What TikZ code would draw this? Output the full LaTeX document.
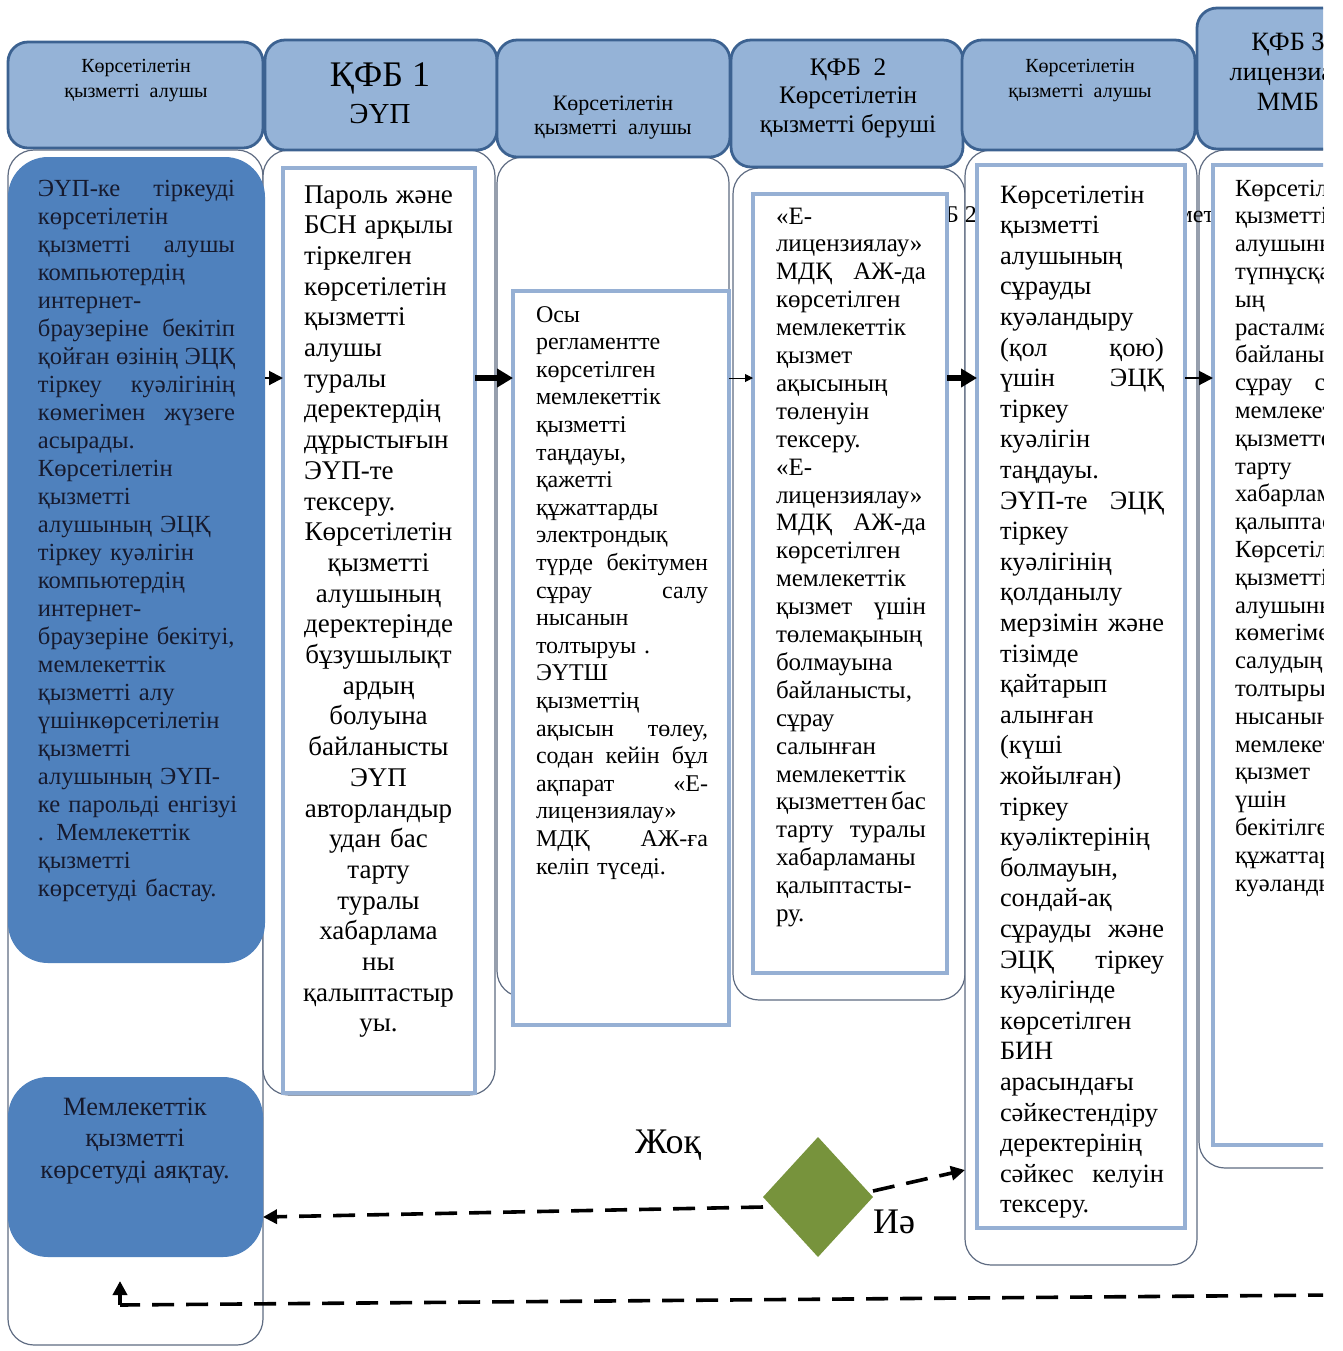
\documentclass[tikz,border=0pt]{standalone}
\usepackage{fontspec}
\setmainfont{Liberation Serif}
\usetikzlibrary{arrows.meta}
\usetikzlibrary{shapes.geometric}
\usetikzlibrary{positioning}
\definecolor{headfill}{RGB}{149,179,215}
\definecolor{headline}{RGB}{60,98,145}
\definecolor{startfill}{RGB}{79,129,189}
\definecolor{laneline}{RGB}{95,108,130}
\definecolor{taskline}{RGB}{150,176,212}
\definecolor{decfill}{RGB}{119,147,60}
\definecolor{darktext}{RGB}{22,26,46}

\newcommand{\jsp}{\hspace{0pt plus 1filll}}
\hyphenpenalty=10000
\exhyphenpenalty=10000

\begin{document}
\begin{tikzpicture}[x=0.5pt, y=-0.5pt, >={Triangle[length=7pt,width=7pt]},
    every node/.style={inner sep=0pt, outer sep=0pt},
    lane/.style={draw=laneline, fill=white, line width=0.6pt, rounded corners=13pt, anchor=north west},
    task/.style={draw=taskline, fill=white, line width=1.8pt, anchor=north west},
    head/.style={draw=headline, fill=headfill, line width=1.4pt, rounded corners=10pt, anchor=north west},
    terminal/.style={fill=startfill, rounded corners=20pt, anchor=north west},
    body/.style={anchor=base west, align=left},
    headtxt/.style={align=center, anchor=center},
    flow/.style={->, line width=1pt},
    bigflow/.style={-{Triangle[length=8pt,width=9pt]}, line width=2.6pt},
    back/.style={->, line width=1.8pt, dash pattern=on 11pt off 6pt}]

  \useasboundingbox (0,0) rectangle (1343,1351);
  \clip (0,0) rectangle (1323,1351);

  % lanes
  \node[lane, minimum width=127.5pt, minimum height=597.5pt] (lane1) at (8,150) {};
  \node[lane, minimum width=116pt, minimum height=472.5pt] (lane2) at (263,150) {};
  \node[lane, minimum width=116pt, minimum height=420pt] (lane3) at (497,157) {};
  \node[lane, minimum width=116pt, minimum height=416pt] (lane4) at (733,168) {};
  \node[lane, minimum width=116pt, minimum height=557.5pt] (lane5) at (965,150) {};
  \node[lane, minimum width=110pt, minimum height=509pt] (lane6) at (1199,150) {};

  % hidden labels behind the boxes
  \node[anchor=base east, font=\fontsize{12}{14}\selectfont] (ghost4) at (977,222) {ҚФБ 2};
  \node[anchor=base east, font=\fontsize{12}{14}\selectfont] (ghost5) at (1214,222) {қызмет};

  % task boxes
  \node[task, minimum width=96pt, minimum height=462.5pt] (t2) at (283,168) {};
  \node[task, minimum width=108pt, minimum height=367pt] (t3) at (513,291) {};
  \node[task, minimum width=97pt, minimum height=389.5pt] (t4) at (753,194) {};
  \node[task, minimum width=104pt, minimum height=531.5pt] (t5) at (977,165) {};
  \node[task, minimum width=90pt, minimum height=490pt] (t6) at (1213,165) {};

  % headers
  \node[head, minimum width=127.5pt, minimum height=53pt] (h1) at (8,42) {};
  \node[head, minimum width=116pt, minimum height=55pt] (h2) at (265,40) {};
  \node[head, minimum width=116.5pt, minimum height=58.5pt] (h3) at (497,40) {};
  \node[head, minimum width=116pt, minimum height=63.5pt] (h4) at (731,40) {};
  \node[head, minimum width=116.5pt, minimum height=55pt] (h5) at (962,40) {};
  \node[head, minimum width=105pt, minimum height=70.5pt] (h6) at (1197,8) {};

  \node[headtxt, font=\fontsize{10}{12.5}\selectfont] (h1txt) at (136,81) {Көрсетілетін\\қызметті~~алушы};
  \node[headtxt, font=\fontsize{18}{20}\selectfont] (h2a) at (380,78) {ҚФБ 1};
  \node[headtxt, font=\fontsize{14.5}{16}\selectfont] (h2b) at (380,114) {ЭҮП};
  \node[headtxt, font=\fontsize{11}{12}\selectfont] (h3txt) at (613,118) {Көрсетілетін\\қызметті~~алушы};
  \node[headtxt, font=\fontsize{12.6}{14.2}\selectfont] (h4txt) at (848,98) {ҚФБ~~2\\Көрсетілетін\\қызметті беруші};
  \node[headtxt, font=\fontsize{10}{12.5}\selectfont] (h5txt) at (1080,81) {Көрсетілетін\\қызметті~~алушы};
  \node[headtxt, font=\fontsize{13.2}{15}\selectfont] (h6txt) at (1288,72) {ҚФБ 3\\лицензиар\\ММБ};

  % start and end
  \node[terminal, minimum width=128.5pt, minimum height=403pt] (start) at (8,157) {};
  \node[terminal, minimum width=127.5pt, minimum height=90pt] (stop) at (8,1077) {};

  \node[body, text width=98.5pt, text=darktext, font=\fontsize{12.3}{14}\selectfont] (starttxt) at (38,196) {%
ЭҮП-ке\jsp тіркеуді\\
көрсетілетін\\
қызметті\jsp алушы\\
компьютердің\\
интернет-\\
браузеріне\jsp бекітіп\\
қойған\jsp өзінің\jsp ЭЦҚ\\
тіркеу\jsp куәлігінің\\
көмегімен\jsp жүзеге\\
асырады.\\
Көрсетілетін\\
қызметті\\
алушының ЭЦҚ\\
тіркеу куәлігін\\
компьютердің\\
интернет-\\
браузеріне бекітуі,\\
мемлекеттік\\
қызметті алу\\
үшінкөрсетілетін\\
қызметті\\
алушының ЭҮП-\\
\mbox{ке парольді енгізуі}\\
. Мемлекеттік\\
қызметті\\
көрсетуді бастау.};

  \node[headtxt, text=darktext, font=\fontsize{13.2}{15.75}\selectfont] (stoptxt) at (135,1141) {Мемлекеттік\\қызметті\\көрсетуді аяқтау.};

  % column texts
  \node[body, text width=74.5pt, font=\fontsize{13.5}{15.35}\selectfont] (t2txt) at (304,203) {%
Пароль\jsp және\\
БСН\jsp арқылы\\
тіркелген\\
көрсетілетін\\
қызметті\\
алушы\\
туралы\\
деректердің\\
дұрыстығын\\
ЭҮП-те\\
тексеру.};
  \node[anchor=base, align=center, text width=80pt, font=\fontsize{13.5}{15.35}\selectfont] (t2txtb) at (378.5,540.7) {%
Көрсетілетін\\
қызметті\\
алушының\\
деректерінде\\
бұзушылықт\\
ардың\\
болуына\\
байланысты\\
ЭҮП\\
авторландыр\\
удан бас\\
тарту\\
туралы\\
хабарлама\\
ны\\
қалыптастыр\\
уы.};

  \node[body, text width=86pt, font=\fontsize{12}{13.8}\selectfont] (t3txt) at (536,322) {%
Осы\\
регламентте\\
көрсетілген\\
мемлекеттік\\
қызметті\\
таңдауы,\\
қажетті\\
құжаттарды\\
электрондық\\
түрде\jsp бекітумен\\
сұрау\jsp салу\\
нысанын\\
толтыруы .\\
ЭҮТШ\\
қызметтің\\
ақысын\jsp төлеу,\\
содан\jsp кейін\jsp бұл\\
ақпарат\jsp «Е-\\
лицензиялау»\\
МДҚ\jsp АЖ-ға\\
келіп түседі.};

  \node[body, text width=75pt, font=\fontsize{12.5}{13.95}\selectfont] (t4txt) at (776,224) {%
«Е-\\
лицензиялау»\\
МДҚ\jsp АЖ-да\\
көрсетілген\\
мемлекеттік\\
қызмет\\
ақысының\\
төленуін\\
тексеру.\\
«Е-\\
лицензиялау»\\
МДҚ\jsp АЖ-да\\
көрсетілген\\
мемлекеттік\\
қызмет\jsp үшін\\
төлемақының\\
болмауына\\
байланысты,\\
сұрау\\
салынған\\
мемлекеттік\\
қызметтен\jsp бас\\
тарту\jsp туралы\\
хабарламаны\\
қалыптасты-\\
ру.};

  \node[body, text width=82pt, font=\fontsize{13.2}{15.3}\selectfont] (t5txt) at (1000,203) {%
Көрсетілетін\\
қызметті\\
алушының\\
сұрауды\\
куәландыру\\
(қол\jsp қою)\\
үшін\jsp ЭЦҚ\\
тіркеу\\
куәлігін\\
таңдауы.\\
ЭҮП-те\jsp ЭЦҚ\\
тіркеу\\
куәлігінің\\
қолданылу\\
мерзімін\jsp және\\
тізімде\\
қайтарып\\
алынған\\
(күші\\
жойылған)\\
тіркеу\\
куәліктерінің\\
болмауын,\\
сондай-ақ\\
сұрауды\jsp және\\
ЭЦҚ\jsp тіркеу\\
куәлігінде\\
көрсетілген\\
БИН\\
арасындағы\\
сәйкестендіру\\
деректерінің\\
сәйкес\jsp келуін\\
тексеру.};

  \node[body, text width=89pt, font=\fontsize{12.3}{13.9}\selectfont] (t6txt) at (1235,196) {%
Көрсетілетін\\
қызметті\\
алушының\\
түпнұсқасын\\
ың\\
расталмауына\\
байланысты\\
сұрау\jsp салынған\\
мемлекеттік\\
қызметтен\jsp бас\\
тарту\jsp туралы\\
хабарламаны\\
қалыптастыру.\\
Көрсетілетін\\
қызметті\\
алушының\\
көмегімен\\
салудың\\
толтырылған\\
нысанын\\
мемлекеттік\\
қызмет\\
үшін\\
бекітілген\\
құжаттарды\\
куәландыру};

  % decision
  \node[diamond, fill=decfill, minimum width=55pt, minimum height=60pt] (dec) at (818,1197) {};
  \node[font=\fontsize{18}{20}\selectfont] (no) at (668,1145) {Жоқ};
  \node[font=\fontsize{18}{20}\selectfont] (yes) at (894,1222) {Иә};

  % arrows
  \coordinate (ay) at (0,378);
  \draw[flow] (start.east |- ay) -- (t2.west |- ay);
  \draw[bigflow] (t2.east |- ay) -- (t3.west |- ay);
  \draw[flow, line width=0.5pt, -{Triangle[length=4pt,width=4pt]}] (t3.east |- ay) -- (t4.west |- ay);
  \draw[bigflow] (t4.east |- ay) -- (t5.west |- ay);
  \draw[flow] (t5.east |- ay) -- (t6.west |- ay);

  \coordinate (noy) at (0,1217);
  \coordinate (yesy) at (0,1170);
  \draw[back] ([yshift=-5pt]dec.west) -- (stop.east |- noy);
  \draw[back] ([yshift=3pt]dec.east) -- (lane5.west |- yesy);
  \coordinate (backin) at (1330,1295);
  \coordinate (backturn) at (120,1305);
  \coordinate (backtip) at (120,1281);
  \draw[back, -] (backin) -- (backturn);
  \draw[flow, line width=1.8pt] (backturn) -- (backtip);
\end{tikzpicture}
\end{document}
